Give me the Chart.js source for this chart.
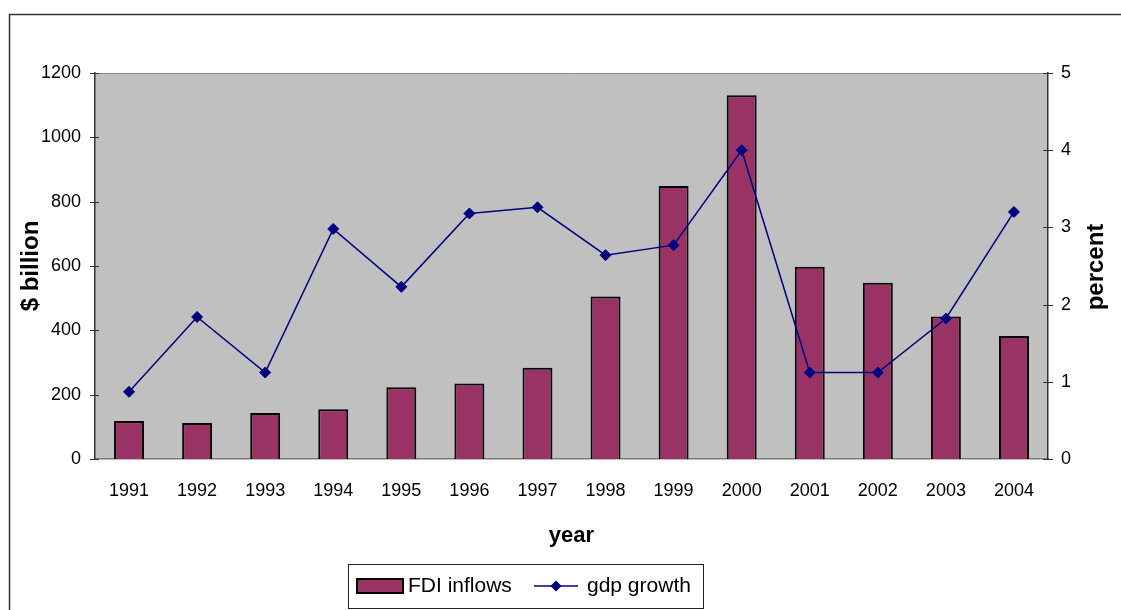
<!DOCTYPE html>
<html><head><meta charset="utf-8">
<script src="https://cdn.jsdelivr.net/npm/chart.js@4/dist/chart.umd.min.js"></script>
<style>html,body{margin:0;padding:0;background:#fff;overflow:hidden}canvas{display:block}</style>
</head><body>
<canvas id="c" width="1121" height="610"></canvas>
<script>
const years = ['1991','1992','1993','1994','1995','1996','1997','1998','1999','2000','2001','2002','2003','2004'];
const fdiInflows = [118, 112, 143, 155, 223, 235, 284, 505, 849, 1131, 598, 548, 443, 382];
const gdpGrowth = [0.87, 1.84, 1.12, 2.98, 2.23, 3.18, 3.26, 2.64, 2.77, 4.0, 1.12, 1.12, 1.82, 3.20];
const leftAxisRange = [0, 1200, 200];
const rightAxisRange = [0, 5, 1];
const seriesNames = ['FDI inflows', 'gdp growth'];
const axisTitles = ['year', '$ billion', 'percent'];

const FONT = "'Liberation Sans', Arial, Helvetica, sans-serif";
const BAR_COLOR = '#993366';
const LINE_COLOR = '#000080';

function diamond(ctx, x, y, r) {
  ctx.beginPath();
  ctx.moveTo(x, y - r); ctx.lineTo(x + r, y); ctx.lineTo(x, y + r); ctx.lineTo(x - r, y);
  ctx.closePath();
}

const decor = {
  id: 'decor',
  beforeDraw(chart) {
    const ctx = chart.ctx, a = chart.chartArea;
    ctx.save();
    ctx.fillStyle = '#fff';
    ctx.fillRect(0, 0, chart.width, chart.height);
    ctx.strokeStyle = '#333';
    ctx.lineWidth = 1.5;
    ctx.beginPath();
    ctx.moveTo(9.5, chart.height + 2); ctx.lineTo(9.5, 14.5); ctx.lineTo(chart.width + 2, 14.5);
    ctx.stroke();
    ctx.fillStyle = '#c0c0c0';
    ctx.fillRect(a.left, a.top, a.right - a.left, a.bottom - a.top);
    ctx.strokeStyle = '#8a8a8a';
    ctx.lineWidth = 1;
    ctx.beginPath();
    ctx.moveTo(a.left, a.top + 0.5); ctx.lineTo(a.right, a.top + 0.5);
    ctx.stroke();
    ctx.restore();
  },
  afterDraw(chart) {
    const ctx = chart.ctx, a = chart.chartArea;
    ctx.save();
    ctx.strokeStyle = '#333';
    ctx.lineWidth = 1;
    const ys = chart.scales.y, y1 = chart.scales.y1;
    ys.ticks.forEach(t => {
      const py = Math.round(ys.getPixelForValue(t.value)) + 0.5;
      ctx.beginPath(); ctx.moveTo(a.left - 5, py); ctx.lineTo(a.left + 4, py); ctx.stroke();
    });
    y1.ticks.forEach(t => {
      const py = Math.round(y1.getPixelForValue(t.value)) + 0.5;
      ctx.beginPath(); ctx.moveTo(a.right - 5, py); ctx.lineTo(a.right + 5, py); ctx.stroke();
    });
    ctx.fillStyle = '#000';
    ctx.font = 'bold 24px ' + FONT;
    ctx.textAlign = 'center';
    ctx.textBaseline = 'middle';
    ctx.translate(1096, (a.top + a.bottom) / 2 + 1);
    ctx.rotate(-Math.PI / 2);
    ctx.fillText(axisTitles[2], 0, 0);
    ctx.restore();

    // legend
    ctx.save();
    const ds = chart.data.datasets;
    const bar = ds.find(d => d.type === 'bar');
    const line = ds.find(d => d.type === 'line');
    ctx.fillStyle = '#fff';
    ctx.fillRect(348, 564, 355, 45);
    ctx.strokeStyle = '#222';
    ctx.lineWidth = 1;
    ctx.strokeRect(348.5, 564.5, 355, 44);
    const cy = 586;
    ctx.fillStyle = bar.backgroundColor;
    ctx.fillRect(357, 579, 46, 14);
    ctx.strokeStyle = '#000';
    ctx.lineWidth = 2;
    ctx.strokeRect(357, 579, 46, 14);
    ctx.fillStyle = '#000';
    ctx.font = '21px ' + FONT;
    ctx.textAlign = 'left';
    ctx.textBaseline = 'middle';
    ctx.fillText(bar.label, 408, cy);
    ctx.strokeStyle = line.borderColor;
    ctx.lineWidth = 1.5;
    ctx.beginPath(); ctx.moveTo(534, cy); ctx.lineTo(578, cy); ctx.stroke();
    ctx.fillStyle = line.borderColor;
    diamond(ctx, 556, cy, 5.5); ctx.fill();
    ctx.fillStyle = '#000';
    ctx.fillText(line.label, 587, cy);
    ctx.restore();
  }
};

const plainTick = v => String(v);

new Chart(document.getElementById('c'), {
  type: 'bar',
  data: {
    labels: years,
    datasets: [
      {
        type: 'line', label: seriesNames[1], data: gdpGrowth, yAxisID: 'y1', order: 0,
        borderColor: LINE_COLOR, borderWidth: 1.5, tension: 0, fill: false,
        pointStyle: 'rectRot', pointRadius: 5.5, pointBackgroundColor: LINE_COLOR,
        pointBorderColor: LINE_COLOR, pointBorderWidth: 1, clip: false
      },
      {
        type: 'bar', label: seriesNames[0], data: fdiInflows, yAxisID: 'y', order: 1,
        backgroundColor: BAR_COLOR, borderColor: '#000', borderWidth: 2,
        categoryPercentage: 1, barPercentage: 0.44
      }
    ]
  },
  options: {
    responsive: false, animation: false, devicePixelRatio: 1,
    layout: { padding: { left: 0, top: 73, right: 0, bottom: 60 } },
    plugins: { legend: { display: false }, tooltip: { enabled: false }, title: { display: false } },
    scales: {
      x: {
        offset: true,
        grid: { display: false, drawTicks: false },
        border: { display: true, color: '#7a7a7a', width: 1.5 },
        ticks: { padding: 21, color: '#000', font: { family: FONT, size: 18 }, maxRotation: 0, autoSkip: false },
        title: { display: true, text: axisTitles[0], color: '#000', font: { family: FONT, size: 22, weight: 'bold' }, padding: { top: 0, bottom: 1 } },
        afterFit: s => { s.height = 91; }
      },
      y: {
        position: 'left', min: leftAxisRange[0], max: leftAxisRange[1],
        grid: { display: false, drawTicks: false },
        border: { display: true, color: '#333', width: 1.5 },
        ticks: { stepSize: leftAxisRange[2], padding: 14, color: '#000', font: { family: FONT, size: 18 }, callback: plainTick },
        title: { display: true, text: axisTitles[1], color: '#000', font: { family: FONT, size: 24, weight: 'bold' }, padding: { top: 17, bottom: 0 } },
        afterFit: s => { s.width = 95; }
      },
      y1: {
        position: 'right', min: rightAxisRange[0], max: rightAxisRange[1],
        grid: { display: false, drawTicks: false },
        border: { display: true, color: '#333', width: 1.5 },
        ticks: { stepSize: rightAxisRange[2], padding: 13, color: '#000', font: { family: FONT, size: 18 }, callback: plainTick },
        title: { display: false },
        afterFit: s => { s.width = 73; }
      }
    }
  },
  plugins: [decor]
});
</script>
</body></html>
